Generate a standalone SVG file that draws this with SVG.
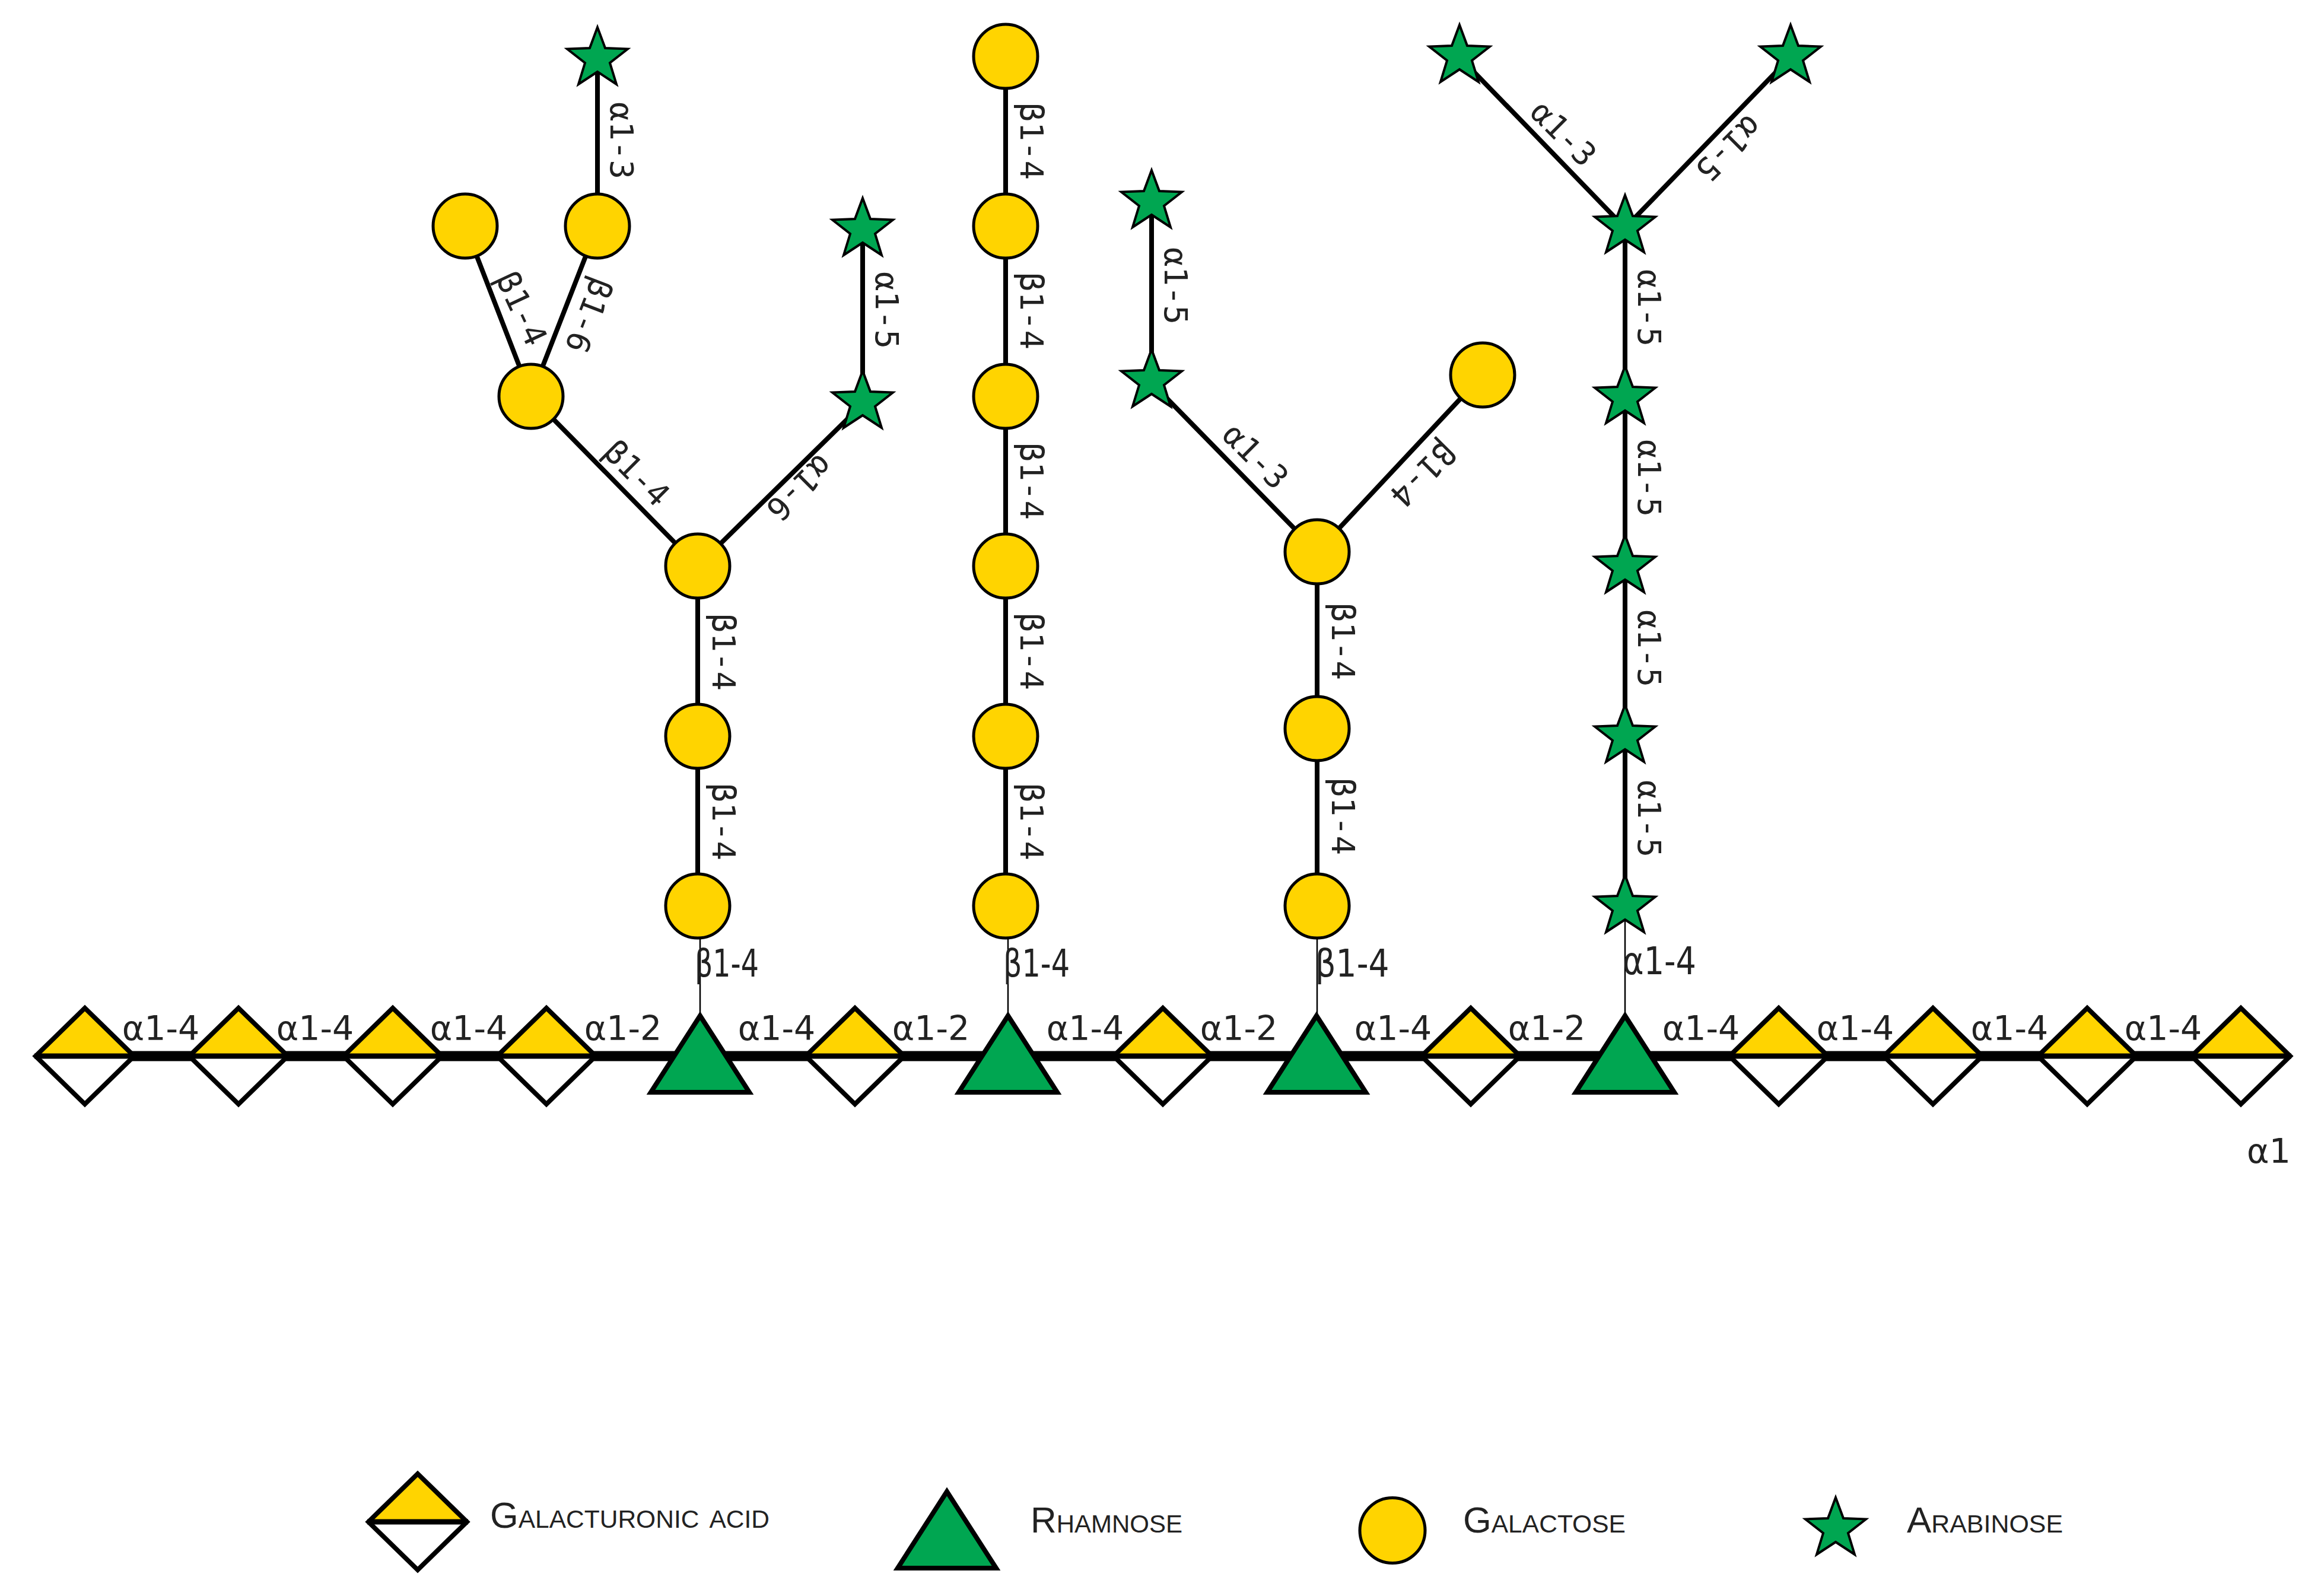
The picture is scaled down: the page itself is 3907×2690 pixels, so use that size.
<svg xmlns="http://www.w3.org/2000/svg" width="3907" height="2690" viewBox="0 0 3907 2690">
<style>
.bb{stroke:#000;stroke-width:17;fill:none}
.ln{stroke:#000;stroke-width:8;fill:none}
.th{stroke:#000;stroke-width:2.5;fill:none}
.g{fill:#FFD400;stroke:#000;stroke-width:5}
.a{fill:#00A651;stroke:#000;stroke-width:4;stroke-linejoin:miter;stroke-miterlimit:10}
.r{fill:#00A651;stroke:#000;stroke-width:8;stroke-linejoin:miter}
.dy{fill:#FFD400;stroke:none}
.dw{fill:#fff;stroke:none}
.do{fill:none;stroke:#000;stroke-width:8;stroke-linejoin:miter}
.dm{stroke:#000;stroke-width:9}
text{fill:#222}
.h{font:57px "DejaVu Sans",sans-serif;text-anchor:middle}
.m{font:54px "DejaVu Sans Mono",monospace;text-anchor:middle}
.t{font:64px "DejaVu Sans",sans-serif;text-anchor:middle}
.l{font:62px "Liberation Sans",Arial,sans-serif;font-variant:small-caps}
</style>
<defs>
<g id="dia"><path class="dy" d="M-83 0L0-81L83 0Z"/><path class="dw" d="M-83 0L0 81L83 0Z"/><path class="do" d="M-83 0L0-81L83 0L0 81Z"/><path class="dm" d="M-85 0H85"/></g>
<path id="tri" class="r" d="M0-64.500L83 64.500H-83Z"/>
<circle id="cir" class="g" r="54"/>
<path id="star" class="a" d="M0-53L13-18L51-16.500L21 7L32 43L0 22L-32 43L-21 7L-51-16.500L-13-18Z"/>
</defs>
<g id="connectors">
<path class="bb" d="M143 1780H3777"/>
<path class="th" d="M1180 1527V1780M1699 1527V1780M2220 1527V1780M2739 1527V1780"/>
<path class="ln" d="M1176 954V1527M1176 954L895 668L784 381M895 668L1007 381V101M1176 954L1454 681V389"/>
<path class="ln" d="M1695 95V1527"/>
<path class="ln" d="M2220 930V1527M2220 930L1941 645V340M2220 930L2499 632"/>
<path class="ln" d="M2739 1527V384L2460 96M2739 384L3018 96"/>
</g>
<g id="labels">
<g class="h"><text x="271" y="1753">α1-4</text><text x="531" y="1753">α1-4</text><text x="790" y="1753">α1-4</text><text x="1050" y="1753">α1-2</text><text x="1309" y="1753">α1-4</text><text x="1569" y="1753">α1-2</text><text x="1829" y="1753">α1-4</text><text x="2088" y="1753">α1-2</text><text x="2348" y="1753">α1-4</text><text x="2607" y="1753">α1-2</text><text x="2867" y="1753">α1-4</text><text x="3127" y="1753">α1-4</text><text x="3387" y="1753">α1-4</text><text x="3646" y="1753">α1-4</text></g>
<g class="t"><text x="1225" y="1646" textLength="108" lengthAdjust="spacingAndGlyphs">β1-4</text><text x="1747" y="1646" textLength="112" lengthAdjust="spacingAndGlyphs">β1-4</text><text x="2279" y="1646" textLength="125" lengthAdjust="spacingAndGlyphs">β1-4</text><text x="2797" y="1642" textLength="124" lengthAdjust="spacingAndGlyphs">α1-4</text></g>
<text x="3824" y="1960" style="font:57px 'DejaVu Sans',sans-serif;text-anchor:middle">α1</text>
<g class="m">
<text transform="translate(1029 237) rotate(90)">α1-3</text>
<text transform="translate(1476 523) rotate(90)">α1-5</text>
<text transform="translate(1201 1099) rotate(90)">β1-4</text>
<text transform="translate(1201 1385) rotate(90)">β1-4</text>
<text transform="translate(1720 238) rotate(90)">β1-4</text>
<text transform="translate(1720 524) rotate(90)">β1-4</text>
<text transform="translate(1720 811) rotate(90)">β1-4</text>
<text transform="translate(1720 1098) rotate(90)">β1-4</text>
<text transform="translate(1720 1385) rotate(90)">β1-4</text>
<text transform="translate(1963 482) rotate(90)">α1-5</text>
<text transform="translate(2245 1081) rotate(90)">β1-4</text>
<text transform="translate(2245 1376) rotate(90)">β1-4</text>
<text transform="translate(2761 519) rotate(90)">α1-5</text>
<text transform="translate(2761 806) rotate(90)">α1-5</text>
<text transform="translate(2761 1093) rotate(90)">α1-5</text>
<text transform="translate(2761 1380) rotate(90)">α1-5</text>
<text transform="translate(862 528) rotate(65)">β1-4</text>
<text transform="translate(975 525) rotate(111)">β1-6</text>
<text transform="translate(1060 811) rotate(45)">β1-4</text>
<text transform="translate(1334 809) rotate(135)">α1-6</text>
<text transform="translate(2103 782) rotate(45)">α1-3</text>
<text transform="translate(2385 786) rotate(135)">β1-4</text>
<text transform="translate(2622 238) rotate(45)">α1-3</text>
<text transform="translate(2900 237) rotate(135)">α1-5</text>
</g>
</g>
<g id="backbone">
<g id="n0"><use href="#dia" x="143" y="1780"/></g>
<g id="n1"><use href="#dia" x="402" y="1780"/></g>
<g id="n2"><use href="#dia" x="662" y="1780"/></g>
<g id="n3"><use href="#dia" x="921" y="1780"/></g>
<g id="n4"><use href="#tri" x="1180" y="1776.500"/></g>
<g id="n5"><use href="#dia" x="1441" y="1780"/></g>
<g id="n6"><use href="#tri" x="1699" y="1776.500"/></g>
<g id="n7"><use href="#dia" x="1960" y="1780"/></g>
<g id="n8"><use href="#tri" x="2219" y="1776.500"/></g>
<g id="n9"><use href="#dia" x="2479" y="1780"/></g>
<g id="n10"><use href="#tri" x="2739" y="1776.500"/></g>
<g id="n11"><use href="#dia" x="2998" y="1780"/></g>
<g id="n12"><use href="#dia" x="3258" y="1780"/></g>
<g id="n13"><use href="#dia" x="3518" y="1780"/></g>
<g id="n14"><use href="#dia" x="3777" y="1780"/></g>
</g>
<g id="branch1">
<g id="b1a"><use href="#cir" x="1176" y="1527"/></g>
<g id="b1b"><use href="#cir" x="1176" y="1241"/></g>
<g id="b1c"><use href="#cir" x="1176" y="954"/></g>
<g id="b1d"><use href="#cir" x="895" y="668"/></g>
<g id="b1e"><use href="#cir" x="784" y="381"/></g>
<g id="b1f"><use href="#cir" x="1007" y="381"/></g>
<g id="b1g"><use href="#star" x="1007" y="99"/></g>
<g id="b1h"><use href="#star" x="1454" y="387"/></g>
<g id="b1i"><use href="#star" x="1454" y="678"/></g>
</g>
<g id="branch2">
<g id="b2a"><use href="#cir" x="1695" y="95"/></g>
<g id="b2b"><use href="#cir" x="1695" y="381"/></g>
<g id="b2c"><use href="#cir" x="1695" y="668"/></g>
<g id="b2d"><use href="#cir" x="1695" y="954"/></g>
<g id="b2e"><use href="#cir" x="1695" y="1241"/></g>
<g id="b2f"><use href="#cir" x="1695" y="1527"/></g>
</g>
<g id="branch3">
<g id="b3a"><use href="#cir" x="2220" y="1527"/></g>
<g id="b3b"><use href="#cir" x="2220" y="1228"/></g>
<g id="b3c"><use href="#cir" x="2220" y="930"/></g>
<g id="b3d"><use href="#cir" x="2499" y="632"/></g>
<g id="b3e"><use href="#star" x="1941" y="642"/></g>
<g id="b3f"><use href="#star" x="1941" y="340"/></g>
</g>
<g id="branch4">
<g id="b4a"><use href="#star" x="2739" y="1528"/></g>
<g id="b4b"><use href="#star" x="2739" y="1241"/></g>
<g id="b4c"><use href="#star" x="2739" y="955"/></g>
<g id="b4d"><use href="#star" x="2739" y="670"/></g>
<g id="b4e"><use href="#star" x="2739" y="382"/></g>
<g id="b4f"><use href="#star" x="2460" y="95"/></g>
<g id="b4g"><use href="#star" x="3018" y="95"/></g>
</g>
<g id="legend">
<g id="lg-gal"><use href="#dia" x="704" y="2565"/><text class="l" x="826" y="2575" textLength="471" lengthAdjust="spacingAndGlyphs">Galacturonic acid</text></g>
<g id="lg-rha"><use href="#tri" x="1596" y="2578.500"/><text class="l" x="1737" y="2583" textLength="256" lengthAdjust="spacingAndGlyphs">Rhamnose</text></g>
<g id="lg-galn"><circle class="g" cx="2347" cy="2579.500" r="55"/><text class="l" x="2466" y="2583" textLength="274" lengthAdjust="spacingAndGlyphs">Galactose</text></g>
<g id="lg-ara"><use href="#star" x="3094" y="2577"/><text class="l" x="3214" y="2583" textLength="263" lengthAdjust="spacingAndGlyphs">Arabinose</text></g>
</g>
</svg>
